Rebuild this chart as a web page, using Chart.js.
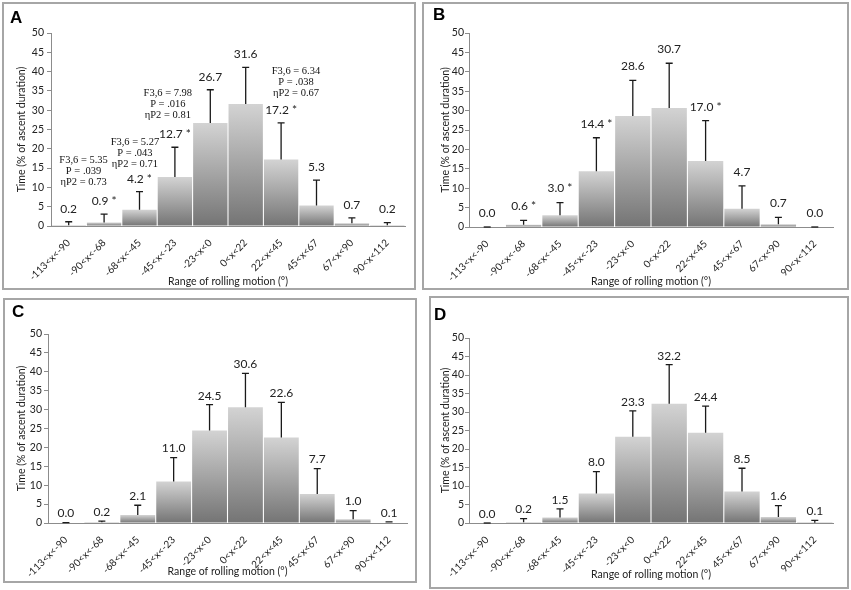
<!DOCTYPE html>
<html>
<head>
<meta charset="utf-8">
<script src="https://cdn.jsdelivr.net/npm/chart.js@4.4.0/dist/chart.umd.min.js"></script>
<style>
  html, body { margin: 0; padding: 0; background: #fff; }
  body { width: 851px; height: 590px; position: relative; overflow: hidden; }
  .panel { position: absolute; border: 2px solid #a6a6a6; box-sizing: border-box; background: #fff; }
  .panel canvas { position: absolute; left: 0; top: 0; }
  .letter { position: absolute; font-family: "Liberation Sans", Arial, sans-serif; font-weight: bold; font-size: 17px; color: #000; }
</style>
</head>
<body>
<script>
// ---------- DATA ----------
const categories = ["-113<x<-90", "-90<x<-68", "-68<x<-45", "-45<x<-23", "-23<x<0", "0<x<22", "22<x<45", "45<x<67", "67<x<90", "90<x<112"];
const yTicks = [0, 5, 10, 15, 20, 25, 30, 35, 40, 45, 50];

const valuesA = [0.2, 0.9, 4.2, 12.7, 26.7, 31.6, 17.2, 5.3, 0.7, 0.2];
const errorsA = [0.9, 2.2, 4.7, 7.7, 8.6, 9.5, 9.5, 6.6, 1.4, 0.7];
const starsA  = [false, true, true, true, false, false, true, false, false, false];

const valuesB = [0.0, 0.6, 3.0, 14.4, 28.6, 30.7, 17.0, 4.7, 0.7, 0.0];
const errorsB = [0.0, 1.1, 3.3, 8.6, 9.2, 11.5, 10.4, 5.9, 1.8, 0.0];
const starsB  = [false, true, true, true, false, false, true, false, false, false];

const valuesC = [0.0, 0.2, 2.1, 11.0, 24.5, 30.6, 22.6, 7.7, 1.0, 0.1];
const errorsC = [0.1, 0.3, 2.6, 6.3, 6.8, 9.0, 9.3, 6.7, 2.3, 0.2];
const starsC  = [false, false, false, false, false, false, false, false, false, false];

const valuesD = [0.0, 0.2, 1.5, 8.0, 23.3, 32.2, 24.4, 8.5, 1.6, 0.1];
const errorsD = [0.0, 1.0, 2.3, 5.9, 7.0, 10.6, 7.2, 6.3, 3.1, 0.6];
const starsD  = [false, false, false, false, false, false, false, false, false, false];

// statistics annotations in panel A: anchored at (category index, y value)
const notesA = [
  { at: 0.42, y: 17.1, lines: ["F3,6 = 5.35", "P = .039", "\u03B7P2 = 0.73"] },
  { at: 1.87, y: 21.7, lines: ["F3,6 = 5.27", "P = .043", "\u03B7P2 = 0.71"] },
  { at: 2.80, y: 34.4, lines: ["F3,6 = 7.98", "P = .016", "\u03B7P2 = 0.81"] },
  { at: 6.42, y: 40.1, lines: ["F3,6 = 6.34", "P = .038", "\u03B7P2 = 0.67"] }
];

const yTitle = "Time (% of ascent duration)";
const xTitle = "Range of rolling motion (\u00B0)";

// ---------- PANEL LAYOUT ----------
const panels = [
  { id: "A", values: valuesA, errors: errorsA, stars: starsA, notes: notesA, gap: 7,
    box: { left: 2, top: 2, w: 414, h: 288 }, letter: { x: 6, y: 4 },
    pad: { left: 11, top: 29, right: 9, bottom: 0 }, yW: 36, xH: 62, tickPad: 3 },
  { id: "B", values: valuesB, errors: errorsB, stars: starsB, notes: [], gap: 8,
    box: { left: 422, top: 2, w: 427, h: 288 }, letter: { x: 9, y: 1 },
    pad: { left: 15, top: 29, right: 14, bottom: 0 }, yW: 30, xH: 61, tickPad: 1 },
  { id: "C", values: valuesC, errors: errorsC, stars: starsC, notes: [], gap: 3,
    box: { left: 3, top: 298, w: 414, h: 285 }, letter: { x: 7, y: 2 },
    pad: { left: 10, top: 34, right: 8, bottom: 3 }, yW: 33, xH: 55, tickPad: 2 },
  { id: "D", values: valuesD, errors: errorsD, stars: starsD, notes: [], gap: 3,
    box: { left: 429, top: 296, w: 420, h: 293 }, letter: { x: 3, y: 7 },
    pad: { left: 8, top: 40, right: 14, bottom: 6 }, yW: 30, xH: 58, tickPad: 1 }
];

// ---------- PLUGIN: error bars, value labels, notes ----------
const errLabelPlugin = {
  id: "errLabels",
  afterDatasetsDraw(chart, args, opts) {
    const ctx = chart.ctx;
    const meta = chart.getDatasetMeta(0);
    const ys = chart.scales.y, xs = chart.scales.x;
    ctx.save();
    meta.data.forEach((bar, i) => {
      const v = opts.values[i], e = opts.errors[i];
      const x = bar.x;
      const yTop = ys.getPixelForValue(v + e);
      const yBar = ys.getPixelForValue(v);
      ctx.strokeStyle = "#1a1a1a";
      ctx.lineWidth = 1.3;
      ctx.beginPath();
      ctx.moveTo(x, yBar);
      ctx.lineTo(x, yTop);
      ctx.moveTo(x - 3.5, yTop);
      ctx.lineTo(x + 3.5, yTop);
      ctx.stroke();
      ctx.fillStyle = "#222";
      ctx.font = "12px Lato, 'Open Sans', sans-serif";
      ctx.textAlign = "center";
      ctx.textBaseline = "bottom";
      const txt = v.toFixed(1) + (opts.stars[i] ? " *" : "");
      ctx.fillText(txt, x, yTop - opts.gap);
    });
    ctx.font = "10.5px 'Liberation Serif', 'Times New Roman', serif";
    ctx.fillStyle = "#111";
    ctx.textAlign = "center";
    ctx.textBaseline = "middle";
    (opts.notes || []).forEach(n => {
      const x0 = xs.getPixelForValue(0), x1 = xs.getPixelForValue(1);
      const cx = x0 + (x1 - x0) * n.at;
      const cy = ys.getPixelForValue(n.y);
      n.lines.forEach((ln, k) => ctx.fillText(ln, cx, cy + k * 11));
    });
    ctx.restore();
  }
};

function barGradient(c) {
  const chart = c.chart;
  if (c.type !== "data" || !chart.chartArea) return "#999";
  const ys = chart.scales.y;
  const y0 = ys.getPixelForValue(0);
  const y1 = ys.getPixelForValue(c.raw);
  if (Math.abs(y0 - y1) < 1) return "#8a8a8a";
  const g = chart.ctx.createLinearGradient(0, y1, 0, y0);
  g.addColorStop(0, "#d3d3d3");
  g.addColorStop(0.5, "#a4a4a4");
  g.addColorStop(1, "#747474");
  return g;
}

panels.forEach(p => {
  const div = document.createElement("div");
  div.className = "panel";
  div.style.left = p.box.left + "px";
  div.style.top = p.box.top + "px";
  div.style.width = p.box.w + "px";
  div.style.height = p.box.h + "px";
  document.body.appendChild(div);

  const cw = p.box.w - 4, ch = p.box.h - 4;
  const canvas = document.createElement("canvas");
  canvas.width = cw; canvas.height = ch;
  canvas.style.width = cw + "px"; canvas.style.height = ch + "px";
  div.appendChild(canvas);

  const lt = document.createElement("div");
  lt.className = "letter";
  lt.textContent = p.id;
  lt.style.left = p.letter.x + "px";
  lt.style.top = p.letter.y + "px";
  div.appendChild(lt);

  new Chart(canvas, {
    type: "bar",
    data: {
      labels: categories,
      datasets: [{
        data: p.values,
        backgroundColor: barGradient,
        borderWidth: 0,
        barPercentage: 0.97,
        categoryPercentage: 1.0
      }]
    },
    options: {
      responsive: false,
      animation: false,
      devicePixelRatio: 1,
      layout: { padding: p.pad },
      plugins: {
        legend: { display: false },
        tooltip: { enabled: false },
        errLabels: { values: p.values, errors: p.errors, stars: p.stars, notes: p.notes, gap: p.gap }
      },
      scales: {
        x: {
          grid: { display: false },
          border: { display: true, color: "#8c8c8c", width: 1 },
          ticks: {
            color: "#222",
            font: { family: "Lato, 'Open Sans', sans-serif", size: 10 },
            minRotation: 45, maxRotation: 45, autoSkip: false, padding: 3
          },
          title: {
            display: true, text: xTitle, color: "#222",
            font: { family: "Lato, 'Open Sans', sans-serif", size: 10.5 },
            padding: { top: 0, bottom: 0 }
          },
          afterFit(s) { s.height = p.xH; }
        },
        y: {
          min: 0, max: 50,
          afterBuildTicks(s) { s.ticks = yTicks.map(v => ({ value: v })); },
          grid: { display: true, drawOnChartArea: false, drawTicks: true, tickLength: 4, color: "#8c8c8c" },
          border: { display: true, color: "#8c8c8c", width: 1 },
          ticks: {
            color: "#222",
            font: { family: "Lato, 'Open Sans', sans-serif", size: 10.5 },
            padding: p.tickPad
          },
          title: {
            display: true, text: yTitle, color: "#222",
            font: { family: "Lato, 'Open Sans', sans-serif", size: 10.5 },
            padding: { top: 0, bottom: 0 }
          },
          afterFit(s) { s.width = p.yW; }
        }
      }
    },
    plugins: [errLabelPlugin]
  });
});
</script>
</body>
</html>
